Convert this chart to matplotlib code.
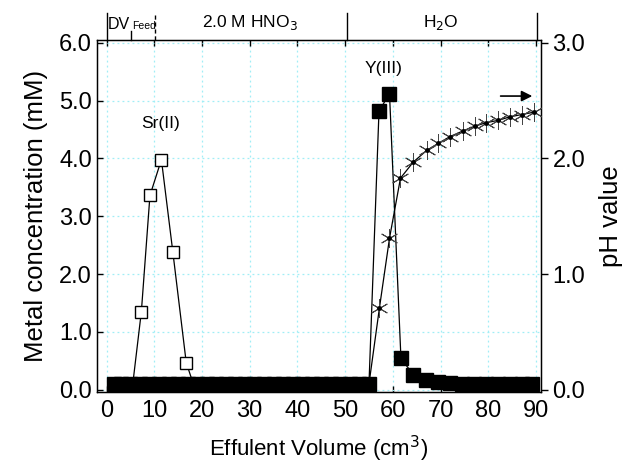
import numpy as np
import matplotlib.pyplot as plt
import matplotlib.transforms as mtransforms

plt.rcParams['font.family'] = ['Liberation Sans', 'DejaVu Sans']

# Sr(II) concentration, mM (first/last points are the line ends in the baseline)
sr_x = [5.5, 7.3, 9.1, 11.5, 13.9, 16.7, 18.5]
sr_y = [0.1, 1.35, 3.36, 3.98, 2.38, 0.47, 0.02]

# Y(III) concentration, mM
y_x = [1.5, 3, 5, 7, 9, 11, 13, 15, 17, 19, 21, 23, 25, 27, 29, 31, 33, 35,
       37, 39, 41, 43, 45, 47, 49, 51, 53, 55,
       57.1, 59.3, 61.7, 64.3, 67.0, 69.5, 72.0, 74.5, 77.0, 79.5, 82.0,
       84.5, 87.0, 89.2]
y_y = [0.1] * 28 + [4.82, 5.12, 0.54, 0.26, 0.17, 0.14, 0.12, 0.1, 0.1,
                    0.1, 0.1, 0.1, 0.1, 0.1]

# pH of effluent (first point is only the line start)
ph_x = [55.0, 57.2, 59.3, 61.6, 64.3, 67.1, 69.5, 72.0, 74.8, 77.2, 79.6,
        82.1, 84.5, 87.0, 89.5]
ph_y = [0.05, 0.71, 1.31, 1.83, 1.97, 2.07, 2.13, 2.19, 2.24, 2.28, 2.31,
        2.33, 2.36, 2.38, 2.40]

fig = plt.figure(figsize=(6.31, 4.65), dpi=100)
ax = fig.add_axes([0.1537, 0.157, 0.7033, 0.757])
ax2 = ax.twinx()
ax.set_zorder(ax2.get_zorder() + 1)
ax.patch.set_visible(False)

ax.grid(True, color='#a0eef6', linestyle=(0, (1.5, 2.5)), linewidth=0.9)
ax.set_axisbelow(True)

ax.plot(sr_x, sr_y, color='black', lw=0.9, marker='s', markersize=8.5,
        markerfacecolor='white', markeredgecolor='black', markeredgewidth=1.0,
        markevery=slice(1, -1), zorder=3)
ax.plot(y_x, y_y, color='black', lw=0.9, marker='s', markersize=10.5,
        markerfacecolor='black', markeredgecolor='black', zorder=4)

# pH drawn on the main axes, scaled to the right axis (pH = 2 * mM scale)
ph_scaled = [v * 2 for v in ph_y]
ax.plot(ph_x, ph_scaled, color='black', lw=0.9, marker=(6, 2, 0),
        markersize=13, markeredgewidth=0.7, markeredgecolor='#444444',
        markevery=slice(1, None), zorder=5)
ax.plot(ph_x[1:], ph_scaled[1:], linestyle='none', marker='o',
        markersize=2.5, color='black', zorder=6)

ax.set_xlim(-2, 91)
ax.set_ylim(-0.04, 6.05)
ax2.set_ylim(-0.02, 3.025)

ax.set_xticks(np.arange(0, 91, 10))
ax.set_yticks(np.arange(0, 6.1, 1.0))
ax.set_yticklabels([f'{v:.1f}' for v in np.arange(0, 6.1, 1.0)])
ax2.set_yticks([0, 1, 2, 3])
ax2.set_yticklabels(['0.0', '1.0', '2.0', '3.0'])

ax.tick_params(axis='both', direction='in', labelsize=17, length=4,
               top=True, width=1)
ax.tick_params(axis='x', pad=6)
ax2.tick_params(axis='y', direction='out', labelsize=17, length=5, width=1)

ax.set_xlabel('Effulent Volume (cm$^3$)', fontsize=16, labelpad=8)
ax.set_ylabel('Metal concentration (mM)', fontsize=18.5, labelpad=8)
ax2.set_ylabel('pH value', fontsize=18.5, labelpad=10)

for sp in ax.spines.values():
    sp.set_linewidth(1.0)

ax.text(11.3, 4.6, 'Sr(II)', fontsize=12.5, ha='center', va='center')
ax.text(58, 5.55, 'Y(III)', fontsize=12.5, ha='center', va='center')

ax.annotate('', xy=(89.8, 2.54 * 2), xytext=(82, 2.54 * 2),
            arrowprops=dict(arrowstyle='-|>', color='black', lw=1.2,
                            mutation_scale=16))

# top band with elution steps
trans = mtransforms.blended_transform_factory(ax.transData, ax.transAxes)
for xv in [0.1, 50.3, 90.3]:
    ax.plot([xv, xv], [1.0, 1.077], color='black', lw=1.0,
            transform=trans, clip_on=False)
ax.plot([10.1, 10.1], [1.0, 1.077], color='black', lw=1.0,
        linestyle=(0, (3, 2)), transform=trans, clip_on=False)
ax.plot([5.2, 5.2], [1.0, 1.025], color='black', lw=1.0,
        transform=trans, clip_on=False)
ax.text(0.3, 1.045, 'DV', transform=trans, fontsize=11.5, ha='left',
        va='center')
ax.text(5.4, 1.04, 'Feed', transform=trans, fontsize=7.5, ha='left',
        va='center')
ax.text(30, 1.05, '2.0 M HNO$_3$', transform=trans, fontsize=12.5,
        ha='center', va='center')
ax.text(70, 1.05, 'H$_2$O', transform=trans, fontsize=12.5, ha='center',
        va='center')

fig.savefig('out.png', dpi=100)
